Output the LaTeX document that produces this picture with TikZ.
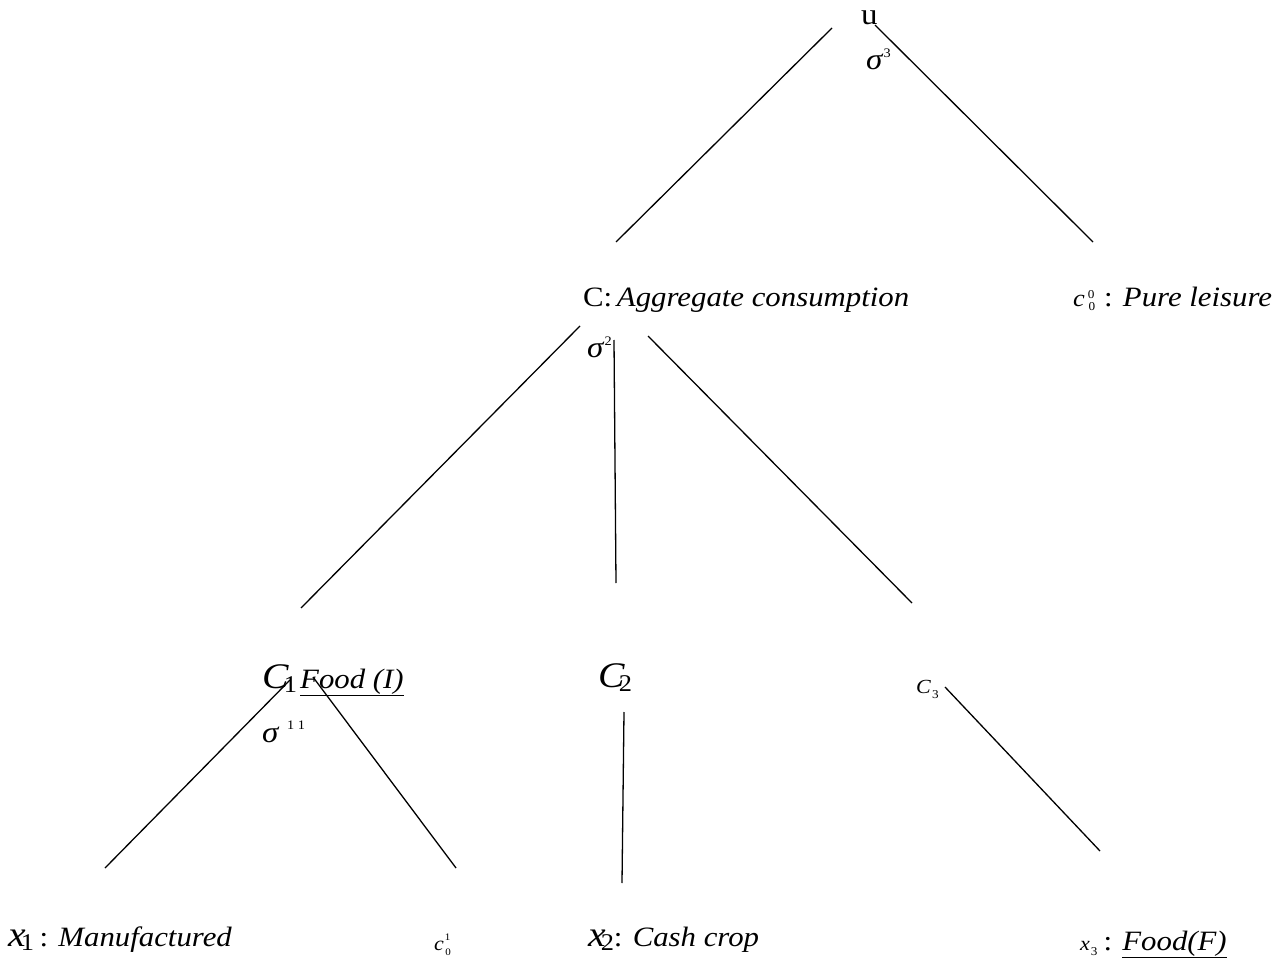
\documentclass[tikz,border=0pt]{standalone}
\usepackage{fontspec}
\setmainfont{Liberation Serif}[FakeStretch=1.1]
\newcommand\fs[1]{\fontsize{#1}{#1}\selectfont}
\begin{document}
\begin{tikzpicture}[x=1pt,y=-1pt,
  lbl/.style={anchor=base west,inner sep=0pt,font=\fs{28}},
  edge/.style={line width=1.3pt}]
\useasboundingbox (0,0) rectangle (1278,960);
% labels
\node[lbl,font=\fs{30}] (u) at (861,25) {u};
\node[lbl] (s3) at (866,70) {\textit{\fs{30}σ}\raisebox{12pt}{\fs{13}3}};
\node[lbl] (C) at (583,307) {C:\,\textit{Aggregate consumption}};
\node[lbl] (c00) at (1073,307) {\textit{\fs{24}c}\kern3pt\raisebox{9pt}{\fs{12}0}\kern-6pt\raisebox{-4pt}{\fs{12}0}\kern9pt : \textit{Pure leisure}};
\node[lbl] (s2) at (587,357) {\textit{\fs{30}σ}\raisebox{12pt}{\fs{13}2}};
\node[lbl] (C1) at (262,688) {\textit{\fs{36}C}\kern-5pt\raisebox{-4pt}{\fs{24}1}\kern3pt\underline{\textit{Food (I)}}};
\node[lbl] (s11) at (262,742) {\textit{\fs{30}σ}\ \raisebox{13pt}{\fs{13}1 1}};
\node[lbl] (C2) at (598,687) {\textit{\fs{36}C}\kern-6pt\raisebox{-4pt}{\fs{24}2}};
\node[lbl] (C3) at (916,693) {\textit{\fs{20}C}\kern1pt\raisebox{-5pt}{\fs{12}3}};
\node[lbl] (x1) at (8,946) {\textit{\fs{36}x}\kern-5pt\raisebox{-4pt}{\fs{24}1}\kern-2pt{} : \textit{Manufactured}};
\node[lbl] (c01) at (434,950) {\textit{\fs{20}c}\kern1pt\raisebox{10pt}{\fs{10}1}\kern-5pt\raisebox{-5pt}{\fs{10}0}};
\node[lbl] (x2) at (588,946) {\textit{\fs{36}x}\kern-5pt\raisebox{-4pt}{\fs{24}2}: \textit{Cash crop}};
\node[lbl] (x3) at (1080,950) {\textit{\fs{20}x}\kern1pt\raisebox{-5pt}{\fs{12}3}\kern6pt : \underline{\textit{Food(F)}}};
% edge endpoints
\coordinate (a1) at (832,28);   \coordinate (a2) at (616,242);
\coordinate (b1) at (875,25);   \coordinate (b2) at (1093,242);
\coordinate (c1) at (580,326);  \coordinate (c2) at (301,608);
\coordinate (d1) at (614,340);  \coordinate (d2) at (616,583);
\coordinate (e1) at (648,336);  \coordinate (e2) at (912,603);
\coordinate (f1) at (290,680);  \coordinate (f2) at (105,868);
\coordinate (g1) at (313,677);  \coordinate (g2) at (456,868);
\coordinate (h1) at (624,712);  \coordinate (h2) at (622,883);
\coordinate (i1) at (945,687);  \coordinate (i2) at (1100,851);
\foreach \p/\q in {a1/a2,b1/b2,c1/c2,d1/d2,e1/e2,f1/f2,g1/g2,h1/h2,i1/i2}
  \draw[edge] (\p) -- (\q);
\end{tikzpicture}
\end{document}
